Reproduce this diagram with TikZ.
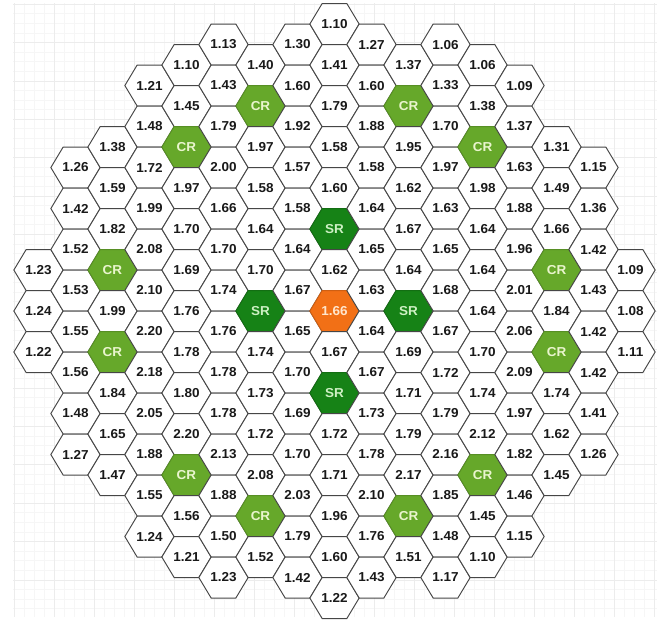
\documentclass[tikz,border=0pt]{standalone}
\usepackage{fontspec}
\setmainfont{Liberation Sans}
\usetikzlibrary{shapes.geometric}
\definecolor{edgegray}{RGB}{70, 70, 70}
\definecolor{gridminor}{RGB}{246, 246, 246}
\definecolor{gridmajor}{RGB}{236, 236, 236}
\definecolor{crfill}{RGB}{102, 168, 42}
\definecolor{crtext}{RGB}{234, 245, 206}
\definecolor{srfill}{RGB}{22, 130, 22}
\definecolor{srtext}{RGB}{205, 240, 195}
\definecolor{corefill}{RGB}{242, 112, 22}
\definecolor{coretext}{RGB}{255, 230, 205}

\begin{document}
\begin{tikzpicture}[x=1pt, y=1pt, yscale=0.9597,
    hx/.style={regular polygon, regular polygon sides=6,
               minimum size=49.33pt, inner sep=0pt, transform shape,
               draw=edgegray, line width=0.95pt, fill=white,
               font=\bfseries\fontsize{13.5}{14}\selectfont,
               text=black!90},
    kind/CR/.style={fill=crfill, draw=crfill!85!black, text=crtext},
    kind/SR/.style={fill=srfill, draw=srfill!85!black, text=srtext},
    spot/0/7/.style={fill=corefill, draw=corefill!85!black, text=coretext},
  ]
  \useasboundingbox (-334.5, -320.9) rectangle (325.5, 324.1);
  \draw[gridminor, line width=0.4pt, step=10] (-321.5, -318.8) grid (322.5, 320.9);
  \draw[gridmajor, line width=0.4pt, step=40] (-321.5, -318.8) grid (322.5, 320.9);

  \foreach \c/\rt/\vals in {
      -8/-2/{1.23,1.24,1.22},
      -7/-7/{1.26,1.42,1.52,1.53,1.55,1.56,1.48,1.27},
      -6/-8/{1.38,1.59,1.82,CR,1.99,CR,1.84,1.65,1.47},
      -5/-11/{1.21,1.48,1.72,1.99,2.08,2.10,2.20,2.18,2.05,1.88,1.55,1.24},
      -4/-12/{1.10,1.45,CR,1.97,1.70,1.69,1.76,1.78,1.80,2.20,CR,1.56,1.21},
      -3/-13/{1.13,1.43,1.79,2.00,1.66,1.70,1.74,1.76,1.78,1.78,2.13,1.88,1.50,1.23},
      -2/-12/{1.40,CR,1.97,1.58,1.64,1.70,SR,1.74,1.73,1.72,2.08,CR,1.52},
      -1/-13/{1.30,1.60,1.92,1.57,1.58,1.64,1.67,1.65,1.70,1.69,1.70,2.03,1.79,1.42},
      0/-14/{1.10,1.41,1.79,1.58,1.60,SR,1.62,1.66,1.67,SR,1.72,1.71,1.96,1.60,1.22},
      1/-13/{1.27,1.60,1.88,1.58,1.64,1.65,1.63,1.64,1.67,1.73,1.78,2.10,1.76,1.43},
      2/-12/{1.37,CR,1.95,1.62,1.67,1.64,SR,1.69,1.71,1.79,2.17,CR,1.51},
      3/-13/{1.06,1.33,1.70,1.97,1.63,1.65,1.68,1.67,1.72,1.79,2.16,1.85,1.48,1.17},
      4/-12/{1.06,1.38,CR,1.98,1.64,1.64,1.64,1.70,1.74,2.12,CR,1.45,1.10},
      5/-11/{1.09,1.37,1.63,1.88,1.96,2.01,2.06,2.09,1.97,1.82,1.46,1.15},
      6/-8/{1.31,1.49,1.66,CR,1.84,CR,1.74,1.62,1.45},
      7/-7/{1.15,1.36,1.42,1.43,1.42,1.42,1.41,1.26},
      8/-2/{1.09,1.08,1.11}}
    \foreach \v [count=\k from 0] in \vals
      \node[hx, kind/\v/.try, spot/\c/\k/.try] (cell\c-\k)
        at ({37*\c}, {-21.36*(\rt+2*\k)}) {\v};
\end{tikzpicture}
\end{document}
